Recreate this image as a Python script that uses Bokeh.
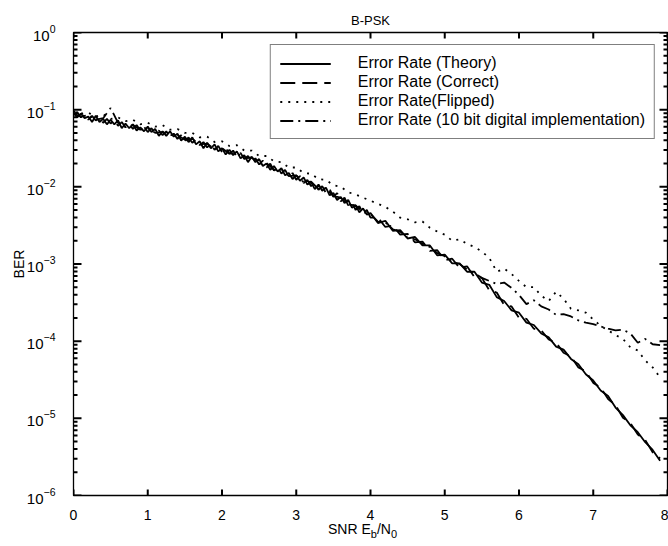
from bokeh.plotting import figure
from bokeh.models import Range1d, FixedTicker, Legend, LegendItem, Div, ColumnDataSource
from bokeh.layouts import column
from bokeh.embed import file_html
from bokeh.resources import INLINE

# ---------------- data ----------------
snr_fine = [round(0.05 * i, 2) for i in range(80)] + [round(4.0 + 0.1 * i, 1) for i in range(40)]
snr_coarse = [round(0.1 * i, 1) for i in range(80)]

ber_theory = [
    9.12e-2, 7.94e-2, 8.91e-2, 7.76e-2, 8.13e-2, 6.92e-2, 8.32e-2, 6.92e-2, 7.59e-2, 6.46e-2,
    7.41e-2, 6.46e-2, 7.24e-2, 5.75e-2, 6.61e-2, 5.75e-2, 6.46e-2, 5.37e-2, 5.89e-2, 5.25e-2,
    6.03e-2, 5.13e-2, 5.62e-2, 4.57e-2, 5.25e-2, 4.57e-2, 5.25e-2, 4.47e-2, 4.90e-2, 3.98e-2,
    4.47e-2, 3.80e-2, 4.37e-2, 3.55e-2, 3.89e-2, 3.16e-2, 3.72e-2, 3.16e-2, 3.55e-2, 2.88e-2,
    3.16e-2, 2.63e-2, 3.02e-2, 2.57e-2, 2.88e-2, 2.34e-2, 2.57e-2, 2.09e-2, 2.45e-2, 2.09e-2,
    2.29e-2, 1.86e-2, 2.00e-2, 1.66e-2, 1.86e-2, 1.58e-2, 1.74e-2, 1.41e-2, 1.51e-2, 1.26e-2,
    1.41e-2, 1.20e-2, 1.32e-2, 1.07e-2, 1.15e-2, 9.33e-3, 1.07e-2, 8.91e-3, 9.77e-3, 7.76e-3,
    8.32e-3, 6.76e-3, 7.41e-3, 6.17e-3, 6.76e-3, 5.37e-3, 5.75e-3, 4.68e-3, 5.25e-3, 4.37e-3,
    4.57e-3, 3.39e-3, 3.63e-3, 2.69e-3, 2.75e-3, 2.14e-3, 2.24e-3, 1.74e-3, 1.74e-3, 1.29e-3,
    1.32e-3, 1.02e-3, 1.02e-3, 7.94e-4, 7.94e-4, 5.75e-4, 5.37e-4, 3.72e-4, 3.31e-4, 2.51e-4,
    2.34e-4, 1.74e-4, 1.62e-4, 1.26e-4, 1.12e-4, 8.51e-5, 7.76e-5, 5.89e-5, 5.01e-5, 3.72e-5,
    3.09e-5, 2.29e-5, 1.95e-5, 1.38e-5, 1.10e-5, 8.13e-6, 6.61e-6, 4.90e-6, 3.89e-6, 2.82e-6,
]

ber_correct = [
    8.51e-2, 9.33e-2, 7.94e-2, 8.71e-2, 7.41e-2, 8.32e-2, 7.24e-2, 7.94e-2, 6.76e-2, 7.59e-2,
    6.61e-2, 7.24e-2, 6.17e-2, 6.92e-2, 5.89e-2, 6.61e-2, 5.62e-2, 6.31e-2, 5.37e-2, 6.03e-2,
    5.13e-2, 5.75e-2, 4.90e-2, 5.37e-2, 4.68e-2, 5.25e-2, 4.37e-2, 4.90e-2, 4.17e-2, 4.68e-2,
    3.89e-2, 4.37e-2, 3.72e-2, 4.07e-2, 3.47e-2, 3.80e-2, 3.24e-2, 3.63e-2, 3.02e-2, 3.39e-2,
    2.82e-2, 3.16e-2, 2.69e-2, 2.95e-2, 2.45e-2, 2.75e-2, 2.29e-2, 2.51e-2, 2.14e-2, 2.34e-2,
    1.95e-2, 2.19e-2, 1.78e-2, 2.00e-2, 1.62e-2, 1.82e-2, 1.48e-2, 1.66e-2, 1.35e-2, 1.51e-2,
    1.23e-2, 1.38e-2, 1.12e-2, 1.23e-2, 1.02e-2, 1.12e-2, 9.12e-3, 1.02e-2, 8.32e-3, 9.33e-3,
    7.41e-3, 8.32e-3, 6.46e-3, 7.24e-3, 5.75e-3, 6.31e-3, 5.01e-3, 5.62e-3, 4.47e-3, 5.01e-3,
    3.98e-3, 3.98e-3, 3.02e-3, 3.16e-3, 2.40e-3, 2.45e-3, 1.91e-3, 1.95e-3, 1.48e-3, 1.51e-3,
    1.12e-3, 1.17e-3, 8.91e-4, 9.33e-4, 6.76e-4, 6.61e-4, 4.57e-4, 4.27e-4, 2.95e-4, 2.82e-4,
    2.00e-4, 1.95e-4, 1.45e-4, 1.38e-4, 1.05e-4, 9.55e-5, 7.08e-5, 6.31e-5, 4.57e-5, 4.07e-5,
    2.88e-5, 2.51e-5, 1.78e-5, 1.48e-5, 1.02e-5, 8.71e-6, 6.17e-6, 5.25e-6, 3.63e-6, 3.02e-6,
]

ber_flipped = [
    9.55e-2, 8.91e-2, 9.12e-2, 8.13e-2, 8.71e-2, 7.59e-2, 7.94e-2, 7.08e-2, 7.41e-2, 6.46e-2,
    6.76e-2, 6.03e-2, 6.31e-2, 5.50e-2, 5.62e-2, 5.01e-2, 5.01e-2, 4.37e-2, 4.47e-2, 3.80e-2,
    3.89e-2, 3.39e-2, 3.47e-2, 2.95e-2, 2.95e-2, 2.51e-2, 2.51e-2, 2.14e-2, 2.09e-2, 1.78e-2,
    1.78e-2, 1.51e-2, 1.48e-2, 1.26e-2, 1.23e-2, 1.05e-2, 1.00e-2, 8.51e-3, 7.94e-3, 7.24e-3,
    6.61e-3, 6.03e-3, 5.50e-3, 4.79e-3, 3.98e-3, 3.80e-3, 3.47e-3, 3.55e-3, 2.95e-3, 2.63e-3,
    2.40e-3, 2.00e-3, 2.09e-3, 1.82e-3, 1.66e-3, 1.45e-3, 1.20e-3, 7.94e-4, 8.71e-4, 7.41e-4,
    6.03e-4, 5.01e-4, 5.01e-4, 3.89e-4, 3.31e-4, 4.37e-4, 3.55e-4, 2.63e-4, 2.51e-4, 2.34e-4,
    1.91e-4, 1.58e-4, 1.38e-4, 1.20e-4, 1.07e-4, 8.32e-5, 7.59e-5, 5.62e-5, 4.57e-5, 3.39e-5,
]

ber_10bit = [
    8.91e-2, 8.13e-2, 8.51e-2, 7.41e-2, 7.76e-2, 1.05e-1, 6.76e-2, 6.03e-2, 6.31e-2, 5.50e-2,
    5.75e-2, 5.01e-2, 5.13e-2, 4.68e-2, 4.68e-2, 4.07e-2, 4.17e-2, 3.55e-2, 3.63e-2, 3.09e-2,
    3.16e-2, 2.69e-2, 2.75e-2, 2.34e-2, 2.40e-2, 2.00e-2, 2.04e-2, 1.66e-2, 1.70e-2, 1.38e-2,
    1.41e-2, 1.15e-2, 1.17e-2, 9.33e-3, 9.55e-3, 7.59e-3, 7.24e-3, 5.89e-3, 5.75e-3, 4.68e-3,
    4.47e-3, 3.55e-3, 3.47e-3, 2.82e-3, 2.63e-3, 2.19e-3, 2.09e-3, 1.82e-3, 1.66e-3, 1.38e-3,
    1.26e-3, 1.07e-3, 1.00e-3, 8.51e-4, 7.59e-4, 6.61e-4, 6.03e-4, 5.50e-4, 5.75e-4, 4.90e-4,
    3.98e-4, 3.02e-4, 3.39e-4, 2.82e-4, 2.57e-4, 2.19e-4, 2.24e-4, 2.09e-4, 1.86e-4, 1.74e-4,
    1.66e-4, 1.55e-4, 1.45e-4, 1.38e-4, 1.41e-4, 1.26e-4, 9.55e-5, 1.07e-4, 9.12e-5, 8.91e-5,
]

series_labels = ["Error Rate (Theory)", "Error Rate (Correct)",
                 "Error Rate(Flipped)", "Error Rate (10 bit digital implementation)"]
x_ticks = [0, 1, 2, 3, 4, 5, 6, 7, 8]
y_ticks = [1e-6, 1e-5, 1e-4, 1e-3, 1e-2, 1e-1, 1e0]
y_minor = [m * t for t in y_ticks[:-1] for m in range(2, 10)]

FONT = "Liberation Sans"
INK = "black"
X0, X1, Y0, Y1 = 0, 8, 1e-6, 1.0

p = figure(width=668, height=522, x_range=Range1d(X0, X1), y_range=Range1d(Y0, Y1),
           y_axis_type="log", output_backend="svg", toolbar_location=None,
           min_border_left=73, min_border_right=1, min_border_top=32, min_border_bottom=24)
p.background_fill_color = "white"
p.border_fill_color = "white"
p.outline_line_color = INK
p.outline_line_width = 1.3
p.xgrid.visible = False
p.ygrid.visible = False

# title
p.title.text = "B-PSK"
p.title.align = "center"
p.title.offset = -6
p.title.standoff = 10
p.title.text_font = FONT
p.title.text_font_size = "13px"
p.title.text_font_style = "normal"
p.title.text_color = INK

LW = 1.8
r_theory = p.line(snr_fine, ber_theory, line_color=INK, line_width=LW)
r_correct = p.line(snr_fine, ber_correct, line_color=INK, line_width=LW, line_dash="15 7")
r_flipped = p.line(snr_coarse, ber_flipped, line_color=INK, line_width=LW, line_dash="2 6")
r_10bit = p.line(snr_coarse, ber_10bit, line_color=INK, line_width=LW, line_dash="13 5 2 5")

# axes: labels only, ticks drawn as inward marks on all four sides of the box
xa = p.xaxis[0]
xa.ticker = FixedTicker(ticks=x_ticks)
xa.major_tick_line_color = None
xa.minor_tick_line_color = None
xa.major_label_standoff = 8
xa.major_label_text_font = FONT
xa.major_label_text_font_size = "14px"
xa.major_label_text_color = INK
xa.axis_line_color = INK

ya = p.yaxis[0]
ya.ticker = FixedTicker(ticks=y_ticks, minor_ticks=y_minor)
ya.major_tick_line_color = None
ya.minor_tick_line_color = None
ya.major_label_standoff = 12
ya.major_label_text_font = FONT
ya.major_label_text_font_size = "15px"
ya.major_label_text_color = INK
ya.axis_label = "BER"
ya.axis_label_text_font = FONT
ya.axis_label_text_font_size = "14px"
ya.axis_label_text_font_style = "normal"
ya.axis_label_text_color = INK
ya.axis_label_standoff = -3
ya.axis_line_color = INK

# inward tick marks (lengths in pixels converted through the axis scales)
frame_w, frame_h = 594, 466
xk_major = 8 * (X1 - X0) / frame_w
xk_minor = 4 * (X1 - X0) / frame_w
yk = 10 ** (6 * 6 / frame_h)
n_x, n_y, n_m = len(x_ticks), len(y_ticks), len(y_minor)
tick_src = ColumnDataSource(dict(
    x0=x_ticks + x_ticks + [X0] * n_y + [X1] * n_y + [X0] * n_m + [X1] * n_m,
    x1=x_ticks + x_ticks + [X0 + xk_major] * n_y + [X1 - xk_major] * n_y
       + [X0 + xk_minor] * n_m + [X1 - xk_minor] * n_m,
    y0=[Y0] * n_x + [Y1] * n_x + y_ticks + y_ticks + y_minor + y_minor,
    y1=[Y0 * yk] * n_x + [Y1 / yk] * n_x + y_ticks + y_ticks + y_minor + y_minor,
))
p.segment(x0="x0", y0="y0", x1="x1", y1="y1", source=tick_src,
          line_color=INK, line_width=2, line_cap="butt")

legend = Legend(items=[LegendItem(label=series_labels[0], renderers=[r_theory]),
                       LegendItem(label=series_labels[1], renderers=[r_correct]),
                       LegendItem(label=series_labels[2], renderers=[r_flipped]),
                       LegendItem(label=series_labels[3], renderers=[r_10bit])],
                location="top_right")
legend.margin = 12
legend.padding = 9
legend.spacing = 1
legend.glyph_width = 51
legend.glyph_height = 17
legend.label_height = 17
legend.label_standoff = 27
legend.label_text_font = FONT
legend.label_text_font_size = "16px"
legend.label_text_color = INK
legend.border_line_color = INK
legend.border_line_width = 1.5
legend.background_fill_color = "white"
legend.background_fill_alpha = 1.0
p.add_layout(legend)

# x-axis label with real subscripts, as HTML text just below the tick labels
xlabel_html = (
    '<div style="margin-left:328px;margin-top:-2px;font-family:\'Liberation Sans\';'
    'font-size:14px;line-height:16px;color:black;white-space:nowrap;">'
    'SNR E<sub style="font-size:11px;line-height:0;">b</sub>/N'
    '<sub style="font-size:11px;line-height:0;">0</sub></div>'
)
xlabel = Div(text=xlabel_html, width=668, height=24, margin=0)

layout = column(p, xlabel, spacing=0)
open("out.html", "w").write(file_html(layout, INLINE))
